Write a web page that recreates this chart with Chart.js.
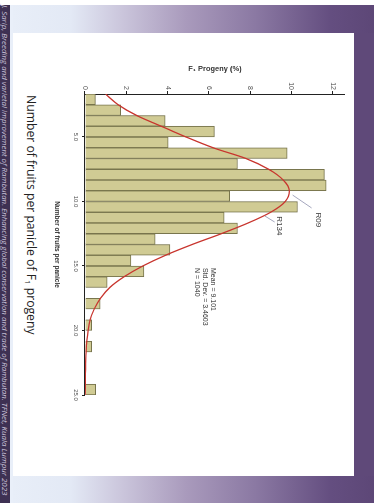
<!DOCTYPE html>
<html>
<head>
<meta charset="utf-8">
<script src="https://cdn.jsdelivr.net/npm/chart.js@4.4.1/dist/chart.umd.min.js"></script>
<style>
html,body{margin:0;padding:0;width:374px;height:503px;overflow:hidden;background:#ffffff;}
.bg{position:absolute;}
#leftband{left:0;top:5px;width:10px;height:498px;background:#3e3153;}
#lstrip{left:10px;top:5px;width:3px;height:498px;background:#e9eff9;}
.grad{background:linear-gradient(to right,#e8eef8 0%,#e3e9f5 16%,#cbc6dc 30%,#a99abc 48%,#8b79a3 67%,#644e80 88%,#5d4777 100%);}
#topband{left:13px;top:5px;width:361px;height:28px;}
#botband{left:13px;top:476px;width:361px;height:27px;}
#rightband{left:354px;top:33px;width:20px;height:443px;background:#5f4979;}
#panel{left:13px;top:33px;width:341px;height:443px;background:#ffffff;}
#slide{position:absolute;left:0;top:0;width:503px;height:374px;transform-origin:0 0;transform:translate(374px,0) rotate(90deg);}
#chartBox{position:absolute;left:60px;top:20px;width:360px;height:305px;}
#title{position:absolute;left:95px;top:335px;font-family:'Open Sans',sans-serif;font-size:12.2px;line-height:16px;color:#222;white-space:nowrap;}
#title sub{font-size:8px;vertical-align:-2px;line-height:0;}
#cite{position:absolute;left:5px;top:364px;font-family:'Open Sans',sans-serif;font-style:italic;font-size:7.9px;line-height:10px;color:#cdc5dc;white-space:nowrap;}
</style>
</head>
<body>
<div class="bg" id="leftband"></div>
<div class="bg" id="lstrip"></div>
<div class="bg grad" id="topband"></div>
<div class="bg grad" id="botband"></div>
<div class="bg" id="rightband"></div>
<div class="bg" id="panel"></div>
<div id="slide">
  <div id="chartBox"><canvas id="c" width="360" height="305"></canvas></div>
  <div id="title">Number of fruits per panicle of F<sub>1</sub> progeny</div>
  <div id="cite">J. Sarip, Breeding and varietal improvement of Rambutan. Enhancing global conservation and trade of Rambutan. TFNet, Kuala Lumpur 2023</div>
</div>
<script>
// Histogram bins (number of fruits per panicle), bin centres
const binCenters = [2.08, 2.92, 3.75, 4.58, 5.42, 6.25, 7.08, 7.92, 8.75, 9.58,
                    10.42, 11.25, 12.08, 12.92, 13.75, 14.58, 15.42, 16.25, 17.08, 17.92,
                    18.75, 19.58, 20.42, 21.25, 22.08, 22.92, 23.75, 24.58];
// F1 progeny (%) per bin
const progenyPct = [0.5, 1.73, 3.88, 6.27, 4.03, 9.8, 7.39, 11.6, 11.69, 7.01,
                    10.3, 6.75, 7.39, 3.4, 4.11, 2.22, 2.85, 1.08, 0, 0.73,
                    0, 0.32, 0, 0.32, 0, 0, 0, 0.52];
// Fitted normal curve
const curveFruits = [1.67, 2.5, 3.33, 4.17, 5.0, 5.83, 6.67, 7.5, 8.33, 9.17, 10.0, 10.83, 11.67,
                     12.5, 13.33, 14.17, 15.0, 15.83, 16.67, 17.5, 18.33, 19.17, 20.0, 21.67, 23.33, 25.0];
const curvePct = [1.0, 1.6, 2.5, 3.7, 4.9, 6.2, 7.8, 8.9, 9.6, 9.9, 9.7, 9.0, 7.9,
                  6.6, 5.2, 3.9, 2.8, 1.9, 1.2, 0.75, 0.45, 0.25, 0.15, 0.05, 0.02, 0.01];
// Axis ticks
const fruitTicks = [5, 10, 15, 20, 25];
const pctTicks = [0, 2, 4, 6, 8, 10, 12];
// Text labels
const statsLines = ['Mean = 9.101', 'Std. Dev. = 3.4603', 'N = 1040'];
const pointLabels = ['R09', 'R134'];

const FONT = "'Liberation Sans', Arial, sans-serif";

const annotPlugin = {
  id: 'annot',
  afterDatasetsDraw(chart) {
    const {ctx, scales: {x, y}} = chart;
    const px = v => x.getPixelForValue(v);
    const py = v => y.getPixelForValue(v);
    ctx.save();
    // leader lines
    ctx.strokeStyle = '#8e90ad';
    ctx.lineWidth = 0.8;
    const leaders = [[9.5, 10.06, 10.5, 10.98], [11.12, 8.71, 11.59, 9.19]];
    leaders.forEach(l => {
      ctx.beginPath();
      ctx.moveTo(px(l[0]), py(l[1]));
      ctx.lineTo(px(l[2]), py(l[3]));
      ctx.stroke();
    });
    ctx.fillStyle = '#333';
    ctx.textBaseline = 'middle';
    ctx.textAlign = 'left';
    ctx.font = '8px ' + FONT;
    ctx.fillText(pointLabels[0], px(10.85), py(11.3));
    ctx.fillText(pointLabels[1], px(11.15), py(9.4));
    ctx.font = '7px ' + FONT;
    const sx = px(15.15), sy = py(6.2);
    statsLines.forEach((t, i) => ctx.fillText(t, sx, sy + i * 8));
    ctx.restore();
  }
};

new Chart(document.getElementById('c'), {
  type: 'bar',
  data: {
    datasets: [
      {
        type: 'line',
        data: curveFruits.map((f, i) => ({x: f, y: curvePct[i]})),
        borderColor: '#c8352e',
        borderWidth: 1.3,
        pointRadius: 0,
        cubicInterpolationMode: 'monotone',
        fill: false,
        order: 0
      },
      {
        type: 'bar',
        data: binCenters.map((c, i) => ({x: c, y: progenyPct[i]})),
        backgroundColor: '#d0cb94',
        borderColor: '#77744c',
        borderWidth: 1,
        barPercentage: 1,
        categoryPercentage: 1,
        order: 1
      }
    ]
  },
  options: {
    responsive: false,
    animation: false,
    events: [],
    layout: {padding: {top: 9, right: 25, left: 0, bottom: 0}},
    plugins: {legend: {display: false}, tooltip: {enabled: false}},
    scales: {
      x: {
        type: 'linear',
        min: 1.667,
        max: 25,
        offset: false,
        afterBuildTicks: s => { s.ticks = fruitTicks.map(v => ({value: v})); },
        afterFit: s => { s.height = 36; },
        grid: {drawOnChartArea: false, drawTicks: true, tickLength: 3, color: '#222', offset: false},
        border: {display: true, color: '#222', width: 1},
        ticks: {font: {family: FONT, size: 6}, color: '#555', padding: 3, maxRotation: 0,
                callback: v => Number(v).toFixed(1)},
        title: {display: true, text: 'Number of fruits per panicle', color: '#333',
                font: {family: FONT, size: 6.5, weight: 'bold'}, padding: {top: 2, bottom: 4}}
      },
      y: {
        type: 'linear',
        min: 0,
        max: 12.6,
        afterBuildTicks: s => { s.ticks = pctTicks.map(v => ({value: v})); },
        afterFit: s => { s.width = 34; },
        grid: {drawOnChartArea: false, drawTicks: true, tickLength: 3, color: '#222'},
        border: {display: true, color: '#222', width: 1},
        ticks: {font: {family: FONT, size: 7}, color: '#555', padding: 1,
                callback: v => String(v)},
        title: {display: true, text: 'F\u2081 Progeny (%)', color: '#333',
                font: {family: FONT, size: 7.5, weight: 'bold'}, padding: {top: 4.5, bottom: 2}}
      }
    }
  },
  plugins: [annotPlugin]
});
</script>
</body>
</html>
